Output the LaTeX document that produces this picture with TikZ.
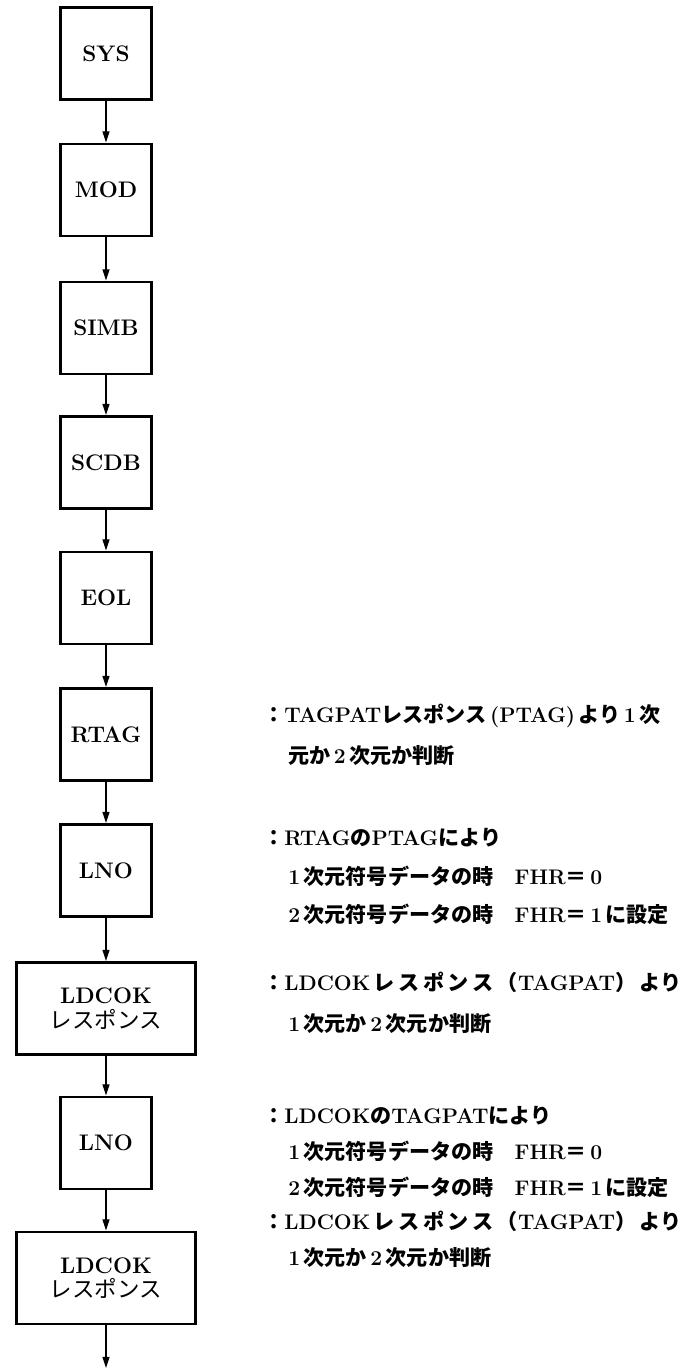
\documentclass[tikz,border=0pt]{standalone}
\usepackage{fontspec}
\usetikzlibrary{arrows.meta}
\newfontfamily\jpfont{Noto Sans CJK JP}
\newcommand{\jp}[1]{{\jpfont #1}}

\begin{document}
\begin{tikzpicture}[x=0.025cm,y=-0.025cm,
  blk/.style={draw,line width=2pt,minimum width=2.28cm,minimum height=2.3cm,
              align=center,inner sep=0pt,font=\fontsize{16}{17.5}\selectfont\bfseries},
  wideblk/.style={blk,minimum width=4.48cm},
  flow/.style={line width=0.9pt,-{Triangle[length=8pt,width=5pt]}},
  note/.style={anchor=base west,inner sep=0pt,font=\fontsize{15}{18}\selectfont\bfseries},
]
\useasboundingbox (0,0) rectangle (697,1369);

% processing chain
\node[blk] (sys) at (106,53.5) {SYS};
\node[blk] (mod) at (106,190) {MOD};
\node[blk] (simb) at (106,328) {SIMB};
\node[blk] (scdb) at (106,462.5) {SCDB};
\node[blk] (eol) at (106,598) {EOL};
\node[blk] (rtag) at (106,734.5) {RTAG};
\node[blk] (lnoa) at (106,870.5) {LNO};
\node[wideblk] (ldcoka) at (106,1008.5) {LDCOK\\\jp{\mdseries レスポンス}};
\node[blk] (lnob) at (106,1143) {LNO};
\node[wideblk] (ldcokb) at (106,1278) {LDCOK\\\jp{\mdseries レスポンス}};
\coordinate (tail) at (106,1368);

\draw[flow] (sys) -- (mod);
\draw[flow] (mod) -- (simb);
\draw[flow] (simb) -- (scdb);
\draw[flow] (scdb) -- (eol);
\draw[flow] (eol) -- (rtag);
\draw[flow] (rtag) -- (lnoa);
\draw[flow] (lnoa) -- (ldcoka);
\draw[flow] (ldcoka) -- (lnob);
\draw[flow] (lnob) -- (ldcokb);
\draw[flow] (ldcokb) -- (tail);

% remarks
\node[note] (ra) at (263,722) {\jp{：}TAGPAT\jp{レスポンス}\,(PTAG)\,\jp{より}\,1\,\jp{次}};
\node[note] (rb) at (288,763) {\jp{元か}\,2\,\jp{次元か判断}};

\node[note] (la) at (263,845) {\jp{：}RTAG\jp{の}PTAG\jp{により}};
\node[note] (lb) at (288,884) {1\,\jp{次元符号データの時}\quad FHR\jp{＝}\,0};
\node[note] (lc) at (288,922) {2\,\jp{次元符号データの時}\quad FHR\jp{＝}\,1\,\jp{に設定}};

\node[note] (ka) at (263,990) {\jp{：}LDCOK\,\jp{レ\,ス\,ポ\,ン\,ス\,（}TAGPAT\jp{）\,より}};
\node[note] (kb) at (288,1031) {1\,\jp{次元か}\,2\,\jp{次元か判断}};

\node[note] (ma) at (263,1123) {\jp{：}LDCOK\jp{の}TAGPAT\jp{により}};
\node[note] (mb) at (288,1159) {1\,\jp{次元符号データの時}\quad FHR\jp{＝}\,0};
\node[note] (mc) at (288,1195) {2\,\jp{次元符号データの時}\quad FHR\jp{＝}\,1\,\jp{に設定}};

\node[note] (na) at (263,1229) {\jp{：}LDCOK\,\jp{レ\,ス\,ポ\,ン\,ス\,（}TAGPAT\jp{）\,より}};
\node[note] (nb) at (288,1265) {1\,\jp{次元か}\,2\,\jp{次元か判断}};
\end{tikzpicture}
\end{document}
